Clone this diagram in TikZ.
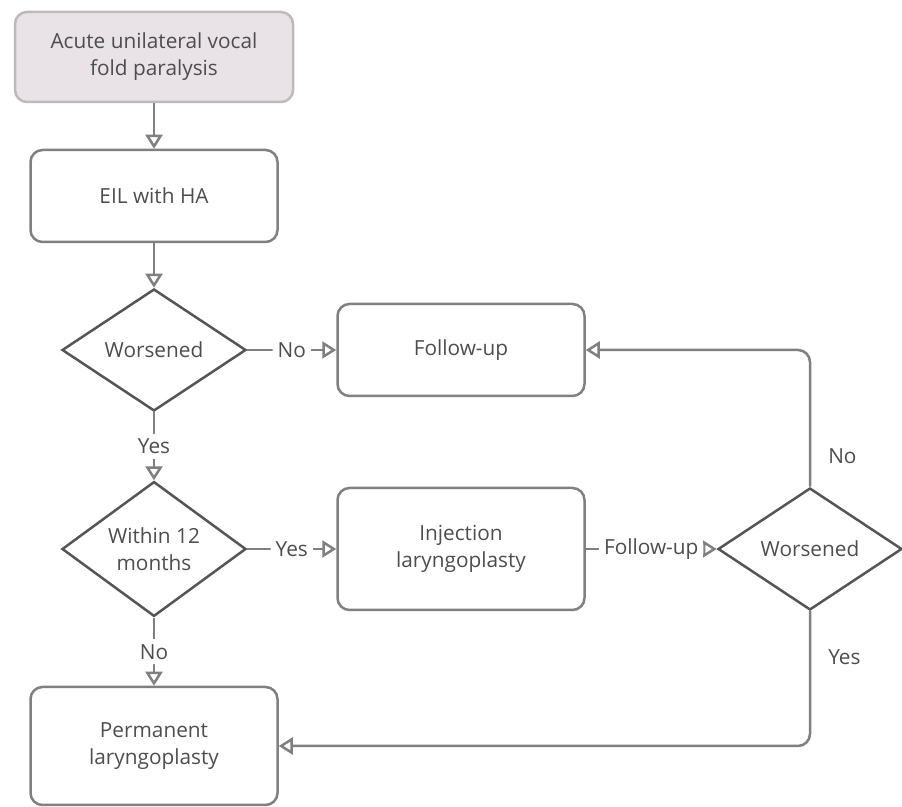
\documentclass[tikz,border=0pt]{standalone}
\usepackage{fontspec}
\setmainfont{Open Sans}
\usetikzlibrary{shapes.geometric,arrows.meta}
\definecolor{linegray}{HTML}{808080}
\definecolor{darkline}{HTML}{555555}
\definecolor{txtgray}{HTML}{4D4D4D}
\definecolor{startfill}{HTML}{E9E3E7}
\definecolor{startline}{HTML}{BEB9BC}
\tikzset{
  box/.style={draw=linegray, line width=1.25pt, rounded corners=6pt, minimum width=123.5pt, minimum height=46pt, align=center, text=txtgray, font=\fontsize{10.4}{13.5}\selectfont},
  decision/.style={diamond, draw=darkline, line width=1.25pt, minimum width=92pt, minimum height=61pt, inner sep=0pt, align=center, text=txtgray, font=\fontsize{10.4}{13.5}\selectfont},
  flow/.style={draw=linegray, line width=1.25pt, -{Triangle[open,length=7pt,width=8.5pt]}, rounded corners=6pt},
  lbl/.style={fill=white, inner sep=2.5pt, text=txtgray, font=\fontsize{10.4}{13.5}\selectfont}
}
\begin{document}
\begin{tikzpicture}[x=0.5pt, y=-0.5pt]
        \useasboundingbox (0,0) rectangle (902,807);
        \node[box, fill=startfill, draw=startline, minimum width=139pt, minimum height=45pt] (onset) at (154,57) {Acute unilateral vocal\\fold paralysis};
        \node[box] (eil) at (154,196) {EIL with HA};
        \node[decision] (worse1) at (154,350) {Worsened};
        \node[box] (follow) at (461,350) {Follow-up};
        \node[decision] (within) at (154,549) {Within 12\\months};
        \node[box, minimum height=61pt] (inject) at (461,549) {Injection\\laryngoplasty};
        \node[decision] (worse2) at (810,549) {Worsened};
        \node[box, minimum height=59pt] (perm) at (154,746) {Permanent\\laryngoplasty};
        \draw[flow] (onset) -- (eil);
        \draw[flow] (eil) -- (worse1);
        \draw[flow] (worse1.east) -- node[lbl] {No} (follow.west);
        \draw[flow] (worse1.south) -- node[lbl] {Yes} (within.north);
        \draw[flow] (within.east) -- node[lbl] {Yes} (inject.west);
        \draw[flow] (within.south) -- node[lbl] {No} (perm.north);
        \draw[flow] (inject.east) -- node[lbl] {Follow-up} (worse2.west);
        \draw[flow] (worse2.north) |- node[lbl, pos=0.11, right=6pt] {No} (follow.east);
        \draw[flow] (worse2.south) |- node[lbl, pos=0.17, right=6pt] {Yes} (perm.east);
    \end{tikzpicture}
\end{document}
